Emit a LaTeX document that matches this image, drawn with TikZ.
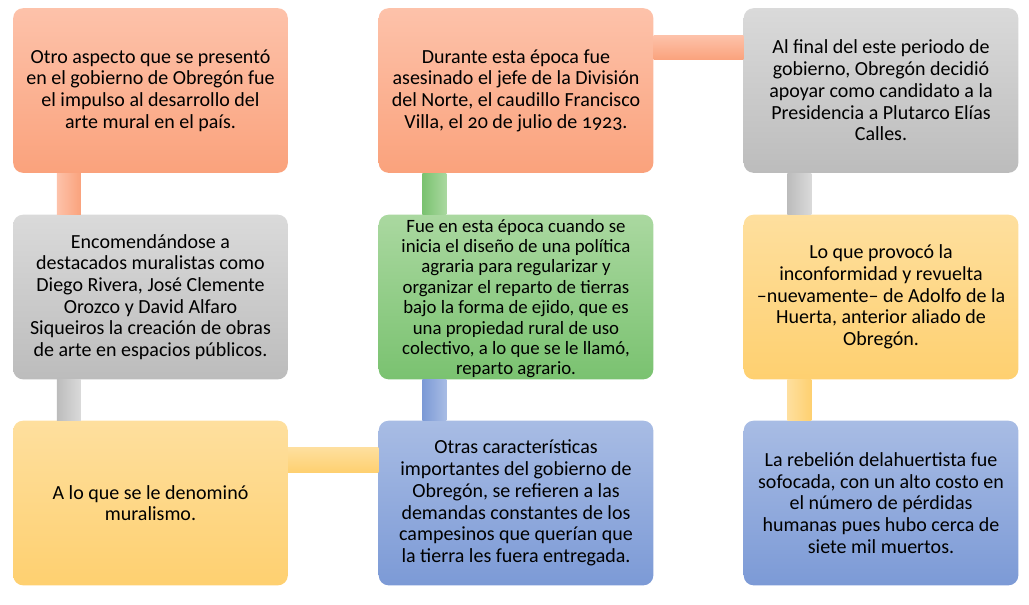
\documentclass[tikz,border=0pt]{standalone}
\usepackage{fontspec}
\setmainfont[Numbers=OldStyle]{Carlito}
\definecolor{peachT}{RGB}{253,194,170}
\definecolor{peachB}{RGB}{250,162,124}
\definecolor{greyT}{RGB}{218,218,218}
\definecolor{greyB}{RGB}{188,188,188}
\definecolor{yellowT}{RGB}{254,223,158}
\definecolor{yellowB}{RGB}{254,208,112}
\definecolor{greenT}{RGB}{170,216,160}
\definecolor{greenB}{RGB}{122,194,112}
\definecolor{blueT}{RGB}{168,188,228}
\definecolor{blueB}{RGB}{124,154,214}

\begin{document}
\begin{tikzpicture}[x=0.75pt,y=-0.75pt,
  box/.style={rounded corners=7.5pt,minimum width=206pt,minimum height=123.5pt,
    align=center,inner sep=2pt,text=black,font=\fontsize{15}{16.3}\selectfont},
  peach/.style={box,top color=peachT,bottom color=peachB},
  grey/.style={box,top color=greyT,bottom color=greyB},
  yellow/.style={box,top color=yellowT,bottom color=yellowB},
  green/.style={box,top color=greenT,bottom color=greenB},
  blue/.style={box,top color=blueT,bottom color=blueB}]
  \useasboundingbox (0,0) rectangle (1029,604);

  % first column
  \node[peach] (arte) at (150.5,90.5) {Otro aspecto que se presentó\\en el gobierno de Obregón fue\\el impulso al desarrollo del\\arte mural en el país.};
  \node[grey] (muralistas) at (150.5,297) {Encomendándose a\\destacados muralistas como\\Diego Rivera, José Clemente\\Orozco y David Alfaro\\Siqueiros la creación de obras\\de arte en espacios públicos.};
  \node[yellow] (muralismo) at (150.5,503) {A lo que se le denominó\\muralismo.};

  % second column
  \node[blue] (campesinos) at (516,503) {Otras características\\importantes del gobierno de\\Obregón, se refieren a las\\demandas constantes de los\\campesinos que querían que\\la tierra les fuera entregada.};
  \node[green,font=\fontsize{14.1}{15.3}\selectfont,text depth=0pt] (agraria) at (516,297) {\rule{0pt}{6pt}Fue en esta época cuando se\\inicia el diseño de una política\\agraria para regularizar y\\organizar el reparto de tierras\\bajo la forma de ejido, que es\\una propiedad rural de uso\\colectivo, a lo que se le llamó,\\reparto agrario.};
  \node[peach] (villa) at (516,90.5) {Durante esta época fue\\asesinado el jefe de la División\\del Norte, el caudillo Francisco\\Villa, el 20 de julio de 1923.};

  % third column
  \node[grey] (calles) at (881,90.5) {Al final del este periodo de\\gobierno, Obregón decidió\\apoyar como candidato a la\\Presidencia a Plutarco Elías\\Calles.};
  \node[yellow] (huerta) at (881,297) {Lo que provocó la\\inconformidad y revuelta\\--nuevamente-- de Adolfo de la\\Huerta, anterior aliado de\\Obregón.};
  \node[blue] (rebelion) at (881,503) {La rebelión delahuertista fue\\sofocada, con un alto costo en\\el número de pérdidas\\humanas pues hubo cerca de\\siete mil muertos.};

  % bars between the boxes
  \shade[left color=peachT,right color=peachB] ([xshift=33pt]arte.south west) rectangle ([xshift=51pt]muralistas.north west);
  \shade[left color=greyB,right color=greyT] ([xshift=33pt]muralistas.south west) rectangle ([xshift=51pt]muralismo.north west);
  \shade[top color=yellowT,bottom color=yellowB] ([yshift=-20.5pt]muralismo.north east) rectangle ([yshift=-39pt]campesinos.north west);
  \shade[left color=blueB,right color=blueT] ([xshift=33pt]agraria.south west) rectangle ([xshift=51pt]campesinos.north west);
  \shade[left color=greenB,right color=greenT] ([xshift=33pt]villa.south west) rectangle ([xshift=51pt]agraria.north west);
  \shade[top color=peachT,bottom color=peachB] ([yshift=-20.5pt]villa.north east) rectangle ([yshift=-39pt]calles.north west);
  \shade[left color=greyB,right color=greyT] ([xshift=33pt]calles.south west) rectangle ([xshift=51pt]huerta.north west);
  \shade[left color=yellowT,right color=yellowB] ([xshift=33pt]huerta.south west) rectangle ([xshift=51pt]rebelion.north west);
\end{tikzpicture}
\end{document}
